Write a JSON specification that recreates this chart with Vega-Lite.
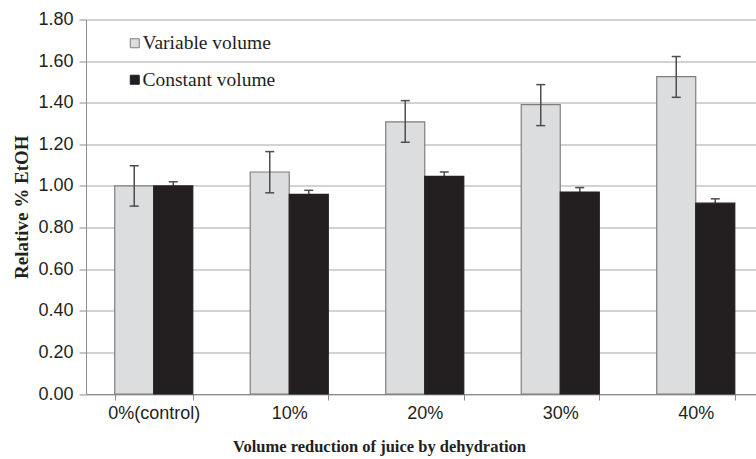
{
  "$schema": "https://vega.github.io/schema/vega-lite/v6.json",
  "autosize": {"type": "none"},
  "padding": {"left": 86, "top": 19.5, "right": 0, "bottom": 65},
  "width": 670,
  "height": 374.5,
  "background": "white",
  "data": {
    "values": [
      {"cat": "0%(control)", "series": "Variable volume", "value": 1.0, "lo": 0.903, "hi": 1.097},
      {"cat": "0%(control)", "series": "Constant volume", "value": 1.0, "lo": 0.98, "hi": 1.02},
      {"cat": "10%", "series": "Variable volume", "value": 1.067, "lo": 0.967, "hi": 1.165},
      {"cat": "10%", "series": "Constant volume", "value": 0.959, "lo": 0.939, "hi": 0.979},
      {"cat": "20%", "series": "Variable volume", "value": 1.308, "lo": 1.21, "hi": 1.41},
      {"cat": "20%", "series": "Constant volume", "value": 1.046, "lo": 1.026, "hi": 1.067},
      {"cat": "30%", "series": "Variable volume", "value": 1.391, "lo": 1.29, "hi": 1.487},
      {"cat": "30%", "series": "Constant volume", "value": 0.971, "lo": 0.951, "hi": 0.992},
      {"cat": "40%", "series": "Variable volume", "value": 1.525, "lo": 1.426, "hi": 1.622},
      {"cat": "40%", "series": "Constant volume", "value": 0.917, "lo": 0.897, "hi": 0.938}
    ]
  },
  "encoding": {
    "x": {
      "field": "cat", "type": "nominal", "sort": null,
      "scale": {"range": [0, 677.5], "paddingInner": 0.424, "paddingOuter": 0.212},
      "axis": {
        "title": "Volume reduction of juice by dehydration",
        "labelAngle": 0,
        "tickBand": "extent",
        "tickSize": 6,
        "tickColor": "#8c8c8c",
        "domainColor": "#8c8c8c",
        "labelFont": "Liberation Sans",
        "labelFontSize": 18,
        "labelColor": "#231f20",
        "labelPadding": 4,
        "titleFont": "Liberation Serif",
        "titleFontWeight": "bold",
        "titleFontSize": 16.5,
        "titleColor": "#231f20",
        "titleX": 293,
        "titleY": 57,
        "titleBaseline": "alphabetic"
      }
    },
    "xOffset": {"field": "series", "type": "nominal", "sort": ["Variable volume", "Constant volume"], "scale": {"paddingInner": 0, "paddingOuter": 0}}
  },
  "layer": [
    {
      "transform": [{"filter": "datum.series === 'Constant volume'"}],
      "layer": [
        {
          "mark": {"type": "rule", "color": "#4d4d4d", "strokeWidth": 1.5},
          "encoding": {
            "y": {"field": "lo", "type": "quantitative"},
            "y2": {"field": "hi"}
          }
        },
        {
          "mark": {"type": "tick", "color": "#4d4d4d", "thickness": 1.5, "opacity": 1},
          "encoding": {
            "y": {"field": "hi", "type": "quantitative"},
            "size": {"value": 9}
          }
        }
      ]
    },
    {
      "mark": {"type": "bar", "strokeWidth": 1.2},
      "encoding": {
        "y": {
          "field": "value", "type": "quantitative",
          "scale": {"domain": [0, 1.8], "nice": false},
          "axis": {
            "title": "Relative % EtOH",
            "values": [0, 0.2, 0.4, 0.6, 0.8, 1.0, 1.2, 1.4, 1.6, 1.8],
            "format": ".2f",
            "grid": true,
            "gridColor": "#a6a6a6",
            "gridWidth": 1,
            "domainColor": "#8c8c8c",
            "tickColor": "#8c8c8c",
            "tickSize": 7,
            "labelPadding": 6,
            "labelFont": "Liberation Sans",
            "labelFontSize": 18,
            "labelColor": "#231f20",
            "titleFont": "Liberation Serif",
            "titleFontWeight": "bold",
            "titleFontSize": 19,
            "titleColor": "#231f20",
            "titleX": -59,
            "titleBaseline": "alphabetic"
          }
        },
        "color": {
          "field": "series", "type": "nominal",
          "scale": {"domain": ["Variable volume", "Constant volume"], "range": ["#dcdddf", "#231f20"]},
          "legend": {
            "title": null,
            "orient": "none",
            "legendX": 39,
            "legendY": 14,
            "symbolType": "square",
            "symbolSize": 81,
            "symbolStrokeColor": "#333333",
            "symbolStrokeWidth": 1,
            "labelFont": "Liberation Serif",
            "labelFontSize": 19.5,
            "labelColor": "#231f20",
            "labelOffset": -2,
            "rowPadding": 15.5,
            "padding": 0
          }
        },
        "stroke": {
          "field": "series", "type": "nominal",
          "scale": {"domain": ["Variable volume", "Constant volume"], "range": ["#7f7f7f", "#231f20"]},
          "legend": null
        }
      }
    },
    {
      "transform": [{"filter": "datum.series === 'Variable volume'"}],
      "layer": [
        {
          "mark": {"type": "rule", "color": "#4d4d4d", "strokeWidth": 1.5},
          "encoding": {
            "y": {"field": "lo", "type": "quantitative"},
            "y2": {"field": "hi"}
          }
        },
        {
          "mark": {"type": "tick", "color": "#4d4d4d", "thickness": 1.5, "opacity": 1},
          "encoding": {
            "y": {"field": "lo", "type": "quantitative"},
            "size": {"value": 9}
          }
        },
        {
          "mark": {"type": "tick", "color": "#4d4d4d", "thickness": 1.5, "opacity": 1},
          "encoding": {
            "y": {"field": "hi", "type": "quantitative"},
            "size": {"value": 9}
          }
        }
      ]
    }
  ],
  "config": {
    "view": {"stroke": null}
  }
}
